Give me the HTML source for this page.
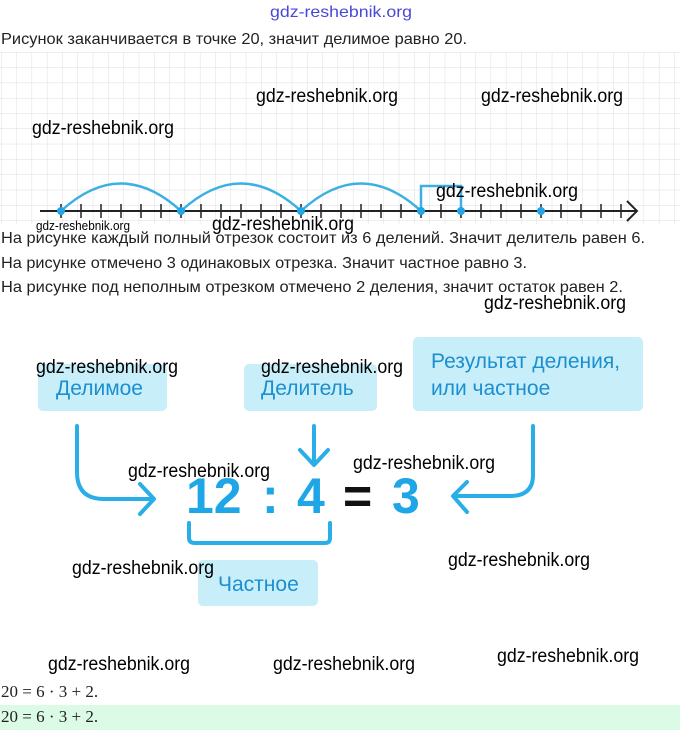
<!DOCTYPE html>
<html><head><meta charset="utf-8"><style>
html,body{margin:0;padding:0;background:#fff;width:680px;height:730px;overflow:hidden}
svg{display:block}
.t{font-family:"Liberation Sans",sans-serif;font-size:16px;fill:#222}
.w{font-family:"Liberation Sans",sans-serif;font-size:19px;fill:#000}
.b{font-family:"Liberation Sans",sans-serif;font-size:21px;fill:#1c8fcf}
.d{font-family:"Liberation Sans",sans-serif;font-size:50px;font-weight:bold;fill:#1ea6e6}
</style></head><body>
<svg width="680" height="730" viewBox="0 0 680 730">
<defs>
<pattern id="g" width="15.3" height="15.3" patternUnits="userSpaceOnUse" x="1" y="52">
<path d="M0 0H15.3M0 0V15.3" stroke="#dedede" stroke-width="1" fill="none"/>
</pattern>
</defs>
<rect x="0" y="52" width="680" height="176" fill="url(#g)"/>
<text x="270" y="17" style="font-family:'Liberation Sans',sans-serif;font-size:16px;fill:#4848d8" textLength="142" lengthAdjust="spacingAndGlyphs">gdz-reshebnik.org</text>
<text class="t" x="1" y="44" textLength="466" lengthAdjust="spacingAndGlyphs">Рисунок заканчивается в точке 20, значит делимое равно 20.</text>

<line x1="40" y1="211" x2="636" y2="211" stroke="#222" stroke-width="2"/>
<path d="M627 201L637 211L627 221" stroke="#222" stroke-width="2" fill="none"/>
<g stroke="#222" stroke-width="1.5">
<line x1="61" y1="204" x2="61" y2="218"/><line x1="81" y1="204" x2="81" y2="218"/><line x1="101" y1="204" x2="101" y2="218"/><line x1="121" y1="204" x2="121" y2="218"/><line x1="141" y1="204" x2="141" y2="218"/><line x1="161" y1="204" x2="161" y2="218"/><line x1="181" y1="204" x2="181" y2="218"/><line x1="201" y1="204" x2="201" y2="218"/><line x1="221" y1="204" x2="221" y2="218"/><line x1="241" y1="204" x2="241" y2="218"/><line x1="261" y1="204" x2="261" y2="218"/><line x1="281" y1="204" x2="281" y2="218"/><line x1="301" y1="204" x2="301" y2="218"/><line x1="321" y1="204" x2="321" y2="218"/><line x1="341" y1="204" x2="341" y2="218"/><line x1="361" y1="204" x2="361" y2="218"/><line x1="381" y1="204" x2="381" y2="218"/><line x1="401" y1="204" x2="401" y2="218"/><line x1="421" y1="204" x2="421" y2="218"/><line x1="441" y1="204" x2="441" y2="218"/><line x1="461" y1="204" x2="461" y2="218"/><line x1="481" y1="204" x2="481" y2="218"/><line x1="501" y1="204" x2="501" y2="218"/><line x1="521" y1="204" x2="521" y2="218"/><line x1="541" y1="204" x2="541" y2="218"/><line x1="561" y1="204" x2="561" y2="218"/><line x1="581" y1="204" x2="581" y2="218"/><line x1="601" y1="204" x2="601" y2="218"/><line x1="621" y1="204" x2="621" y2="218"/>
</g>
<g stroke="#3db0e3" stroke-width="2.5" fill="none">
<path d="M61 211Q121 156 181 211"/>
<path d="M181 211Q241 156 301 211"/>
<path d="M301 211Q361 156 421 211"/>
<path d="M421 211V186H461V211"/>
</g>
<g fill="#1ea6e6">
<circle cx="61" cy="211" r="4"/><circle cx="181" cy="211" r="4"/><circle cx="301" cy="211" r="4"/><circle cx="421" cy="211" r="4"/><circle cx="461" cy="211" r="4"/><circle cx="541" cy="211" r="4"/>
</g>
<rect x="0" y="224" width="680" height="8" fill="#fff"/>

<g lengthAdjust="spacingAndGlyphs">
<text class="w" x="256" y="102" textLength="142" lengthAdjust="spacingAndGlyphs">gdz-reshebnik.org</text>
<text class="w" x="481" y="102" textLength="142" lengthAdjust="spacingAndGlyphs">gdz-reshebnik.org</text>
<text class="w" x="32" y="134" textLength="142" lengthAdjust="spacingAndGlyphs">gdz-reshebnik.org</text>
<text class="w" x="436" y="197" textLength="142" lengthAdjust="spacingAndGlyphs">gdz-reshebnik.org</text>
<text class="w" x="212" y="230" textLength="142" lengthAdjust="spacingAndGlyphs">gdz-reshebnik.org</text>
<text x="36" y="230" style="font-family:'Liberation Sans',sans-serif;font-size:13px" textLength="94" lengthAdjust="spacingAndGlyphs">gdz-reshebnik.org</text>
</g>

<text class="t" x="1" y="243" textLength="644" lengthAdjust="spacingAndGlyphs">На рисунке каждый полный отрезок состоит из 6 делений. Значит делитель равен 6.</text>
<text class="t" x="1" y="268" textLength="526" lengthAdjust="spacingAndGlyphs">На рисунке отмечено 3 одинаковых отрезка. Значит частное равно 3.</text>
<text class="t" x="1" y="292" textLength="622" lengthAdjust="spacingAndGlyphs">На рисунке под неполным отрезком отмечено 2 деления, значит остаток равен 2.</text>
<text class="w" x="484" y="309" textLength="142" lengthAdjust="spacingAndGlyphs">gdz-reshebnik.org</text>

<rect x="38" y="364" width="129" height="47" rx="5" fill="#c8eefa"/>
<rect x="244" y="364" width="133" height="47" rx="5" fill="#c8eefa"/>
<rect x="413" y="337" width="230" height="74" rx="5" fill="#c8eefa"/>
<rect x="198" y="560" width="120" height="46" rx="5" fill="#c8eefa"/>
<text class="b" x="56" y="395">Делимое</text>
<text class="b" x="261" y="395">Делитель</text>
<text class="b" x="431" y="368">Результат деления,</text>
<text class="b" x="431" y="395">или частное</text>
<text class="b" x="218" y="591">Частное</text>

<g stroke="#2aaee8" stroke-width="4" fill="none" stroke-linecap="round" stroke-linejoin="round">
<path d="M77 426V472Q77 499 104 499H152"/>
<path d="M140 484L154 499L140 514"/>
<path d="M314 426V464"/>
<path d="M300 450L314 465L328 450"/>
<path d="M533 426V475Q533 496 510 496H455"/>
<path d="M467 482L453 496L467 512"/>
<path d="M189 523V538Q189 543 195 543H325Q330 543 330 538V523"/>
</g>
<text class="d" x="186" y="513">12</text>
<text class="d" x="262" y="513">:</text>
<text class="d" x="297" y="513">4</text>
<text x="343" y="513" style="font-family:'Liberation Sans',sans-serif;font-size:50px;font-weight:bold;fill:#111">=</text>
<text class="d" x="392" y="513">3</text>

<text class="w" x="36" y="373" textLength="142" lengthAdjust="spacingAndGlyphs">gdz-reshebnik.org</text>
<text class="w" x="261" y="373" textLength="142" lengthAdjust="spacingAndGlyphs">gdz-reshebnik.org</text>
<text class="w" x="128" y="477" textLength="142" lengthAdjust="spacingAndGlyphs">gdz-reshebnik.org</text>
<text class="w" x="353" y="469" textLength="142" lengthAdjust="spacingAndGlyphs">gdz-reshebnik.org</text>
<text class="w" x="72" y="574" textLength="142" lengthAdjust="spacingAndGlyphs">gdz-reshebnik.org</text>
<text class="w" x="448" y="566" textLength="142" lengthAdjust="spacingAndGlyphs">gdz-reshebnik.org</text>
<text class="w" x="48" y="670" textLength="142" lengthAdjust="spacingAndGlyphs">gdz-reshebnik.org</text>
<text class="w" x="273" y="670" textLength="142" lengthAdjust="spacingAndGlyphs">gdz-reshebnik.org</text>
<text class="w" x="497" y="662" textLength="142" lengthAdjust="spacingAndGlyphs">gdz-reshebnik.org</text>

<rect x="0" y="705" width="680" height="25" fill="#dcfbe6"/>
<text x="1" y="697" style="font-family:'Liberation Serif',serif;font-size:17px;fill:#222">20 = 6 · 3 + 2.</text>
<text x="1" y="722" style="font-family:'Liberation Serif',serif;font-size:17px;fill:#222">20 = 6 · 3 + 2.</text>
</svg>
</body></html>
